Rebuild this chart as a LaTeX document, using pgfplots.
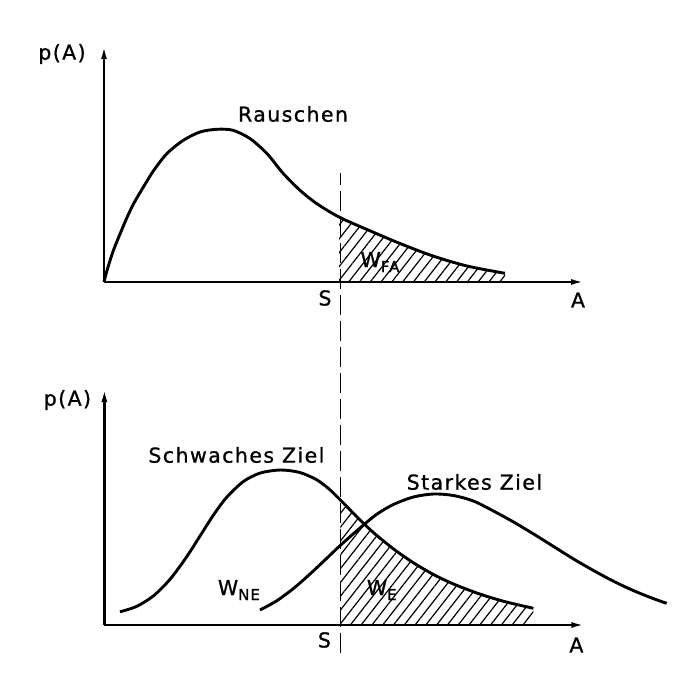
\documentclass[border=0pt]{standalone}
\usepackage{fontspec}
\setmainfont{DejaVu Sans}[LetterSpace=7, FakeBold=1]
\usepackage{pgfplots}
\pgfplotsset{compat=1.18}
\usetikzlibrary{patterns.meta,arrows.meta}

\pgfplotsset{
  detector/.style={
    x=1pt, y=1pt, xmin=0, xmax=480, ymin=0, ymax=236,
    axis lines=left, xtick=\empty, ytick=\empty,
    axis line style={line width=2.3pt, -{Latex[length=13pt,width=6pt]}},
    clip=false, anchor=south west,
  },
  curve/.style={line width=2.9pt, smooth, no marks, black},
  hatch/.style={draw=none, smooth, no marks,
    pattern={Lines[angle=52,distance=8.5pt,line width=1.2pt]}},
}
\tikzset{lbl/.style={font=\fontsize{20.5}{20.5}\selectfont}}
\newcommand{\sub}[1]{\raisebox{-5pt}{\fontsize{15}{15}\selectfont #1}}

\begin{document}
\begin{tikzpicture}
\useasboundingbox (0,0) rectangle (700pt,673pt);

% noise only
\begin{axis}[detector, at={(104pt,391pt)}]
  \addplot[hatch] coordinates {
    (235,65) (263,52.5) (296,38.5) (329,26) (363,16) (401,8.7)} \closedcycle;
  \addplot[curve] coordinates {
    (0,0) (3,11.5) (9,30.5) (16,48) (23,64.5) (30,79) (40,96) (50,112)
    (63,128.5) (79,141.5) (96,150) (113,152.7) (129,151.7) (146,143.4)
    (163,128.4) (179,108.8) (196,91.7) (213,78.2) (235,65)
    (263,52.5) (296,38.5) (329,26) (363,16) (401,8.7)};
  \node[lbl] at (-42,228) {p(A)};
  \node[lbl] at (189,168) {Rauschen};
  \node[lbl] at (221,-16) {S};
  \node[lbl] at (474,-18) {A};
  \node[lbl, anchor=base west] at (253,15) {W\sub{FA}};
\end{axis}

% weak and strong target
\begin{axis}[detector, at={(104.4pt,48pt)}]
  \addplot[hatch] coordinates {
    (236,125) (255,105.7) (270,91.6) (290,75.4) (310,61.6) (330,50)
    (350,40.6) (375,31.1) (400,23.5) (429,16.7)} \closedcycle;
  \addplot[curve] coordinates {
    (15.6,13.2) (32,18.5) (49,29.1) (65.6,45.7) (82,67.8) (96,89.6)
    (109,109.9) (122,127.4) (139,143.5) (156,152) (176,155) (195,152.6)
    (212,145.4) (225,135.7) (236,125) (255,105.7) (270,91.6) (290,75.4)
    (310,61.6) (330,50) (350,40.6) (375,31.1) (400,23.5) (429,16.7)};
  \addplot[curve] coordinates {
    (155.6,15) (172,24) (189,36.5) (205.6,51) (222,66.4) (236,79.7)
    (255.6,97) (272,110.5) (289,120.5) (309,128) (329,131) (349,129.5)
    (369,124) (390,113.5) (410,102.5) (430,90.5) (450,78) (470,65.5)
    (490,54) (510,43.3) (530,34) (550,26) (562.3,21.7)};
  % threshold S through both plots
  \addplot[line width=1.7pt, dash pattern=on 20pt off 6pt, no marks]
    coordinates {(236,-28) (236,452)};
  \node[lbl] at (-37,225) {p(A)};
  \node[lbl] at (132,170) {Schwaches Ziel};
  \node[lbl] at (370,143) {Starkes Ziel};
  \node[lbl] at (220,-15) {S};
  \node[lbl] at (472,-20) {A};
  \node[lbl, anchor=base west] at (110,30) {W\sub{NE}};
  \node[lbl, anchor=base west] at (259,30) {W\sub{E}};
\end{axis}
\end{tikzpicture}
\end{document}
